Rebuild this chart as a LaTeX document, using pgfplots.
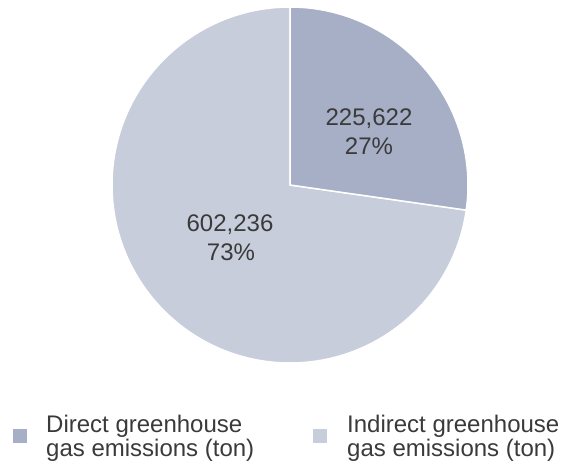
\documentclass[border=0pt]{standalone}
\usepackage{pgfplots}
\pgfplotsset{compat=1.18}
\usepackage{pgfplotstable}
\usepackage{fontspec}
\setmainfont{Liberation Sans}
\definecolor{directc}{HTML}{A7AFC7}
\definecolor{indirectc}{HTML}{C8CDDC}
\definecolor{txt}{HTML}{3A3A3A}
% emissions (ton)
\pgfplotstableread{
label value
Direct 225622
Indirect 602236
}\emis
\pgfplotstablegetelem{0}{value}\of\emis \edef\valA{\pgfplotsretval}
\pgfplotstablegetelem{1}{value}\of\emis \edef\valB{\pgfplotsretval}
\edef\angEnd{\fpeval{90-360*\valA/(\valA+\valB)}}
\begin{document}
\begin{tikzpicture}
\begin{axis}[hide axis, scale only axis, width=564pt, height=465pt,
  xmin=0, xmax=564, ymin=0, ymax=465, clip=false]
\path (axis cs:0,0) rectangle (axis cs:564,465);
% pie: centre (290,280), radius 178
\fill[indirectc, draw=white, line width=1.5pt] (axis cs:290,280) -- (axis cs:290,458)
  arc[start angle=90, end angle={\angEnd-360}, radius=178] -- cycle;
\fill[directc, draw=white, line width=1.5pt] (axis cs:290,280) -- (axis cs:290,458)
  arc[start angle=90, end angle=\angEnd, radius=178] -- cycle;
\begin{scope}[every node/.style={font=\fontsize{24}{24}\selectfont, text=txt, inner sep=0pt}]
\node[anchor=base] at (axis cs:369,339) {225,622};
\node[anchor=base] at (axis cs:369,310) {27\%};
\node[anchor=base] at (axis cs:230,233) {602,236};
\node[anchor=base] at (axis cs:231,204) {73\%};
% legend
\fill[directc] (axis cs:13,22) rectangle (axis cs:27,36);
\fill[indirectc] (axis cs:313,22) rectangle (axis cs:327,36);
\node[anchor=base west] at (axis cs:46,32) {Direct greenhouse};
\node[anchor=base west] at (axis cs:46,8) {gas emissions (ton)};
\node[anchor=base west] at (axis cs:347,32) {Indirect greenhouse};
\node[anchor=base west] at (axis cs:347,8) {gas emissions (ton)};
\end{scope}
\end{axis}
\end{tikzpicture}
\end{document}
